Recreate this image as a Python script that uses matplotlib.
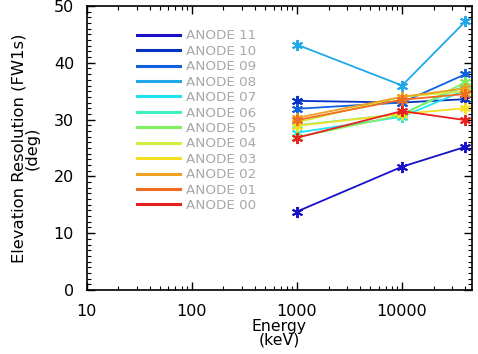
import numpy as np
import matplotlib.pyplot as plt
from matplotlib.ticker import MultipleLocator, LogLocator, NullFormatter, FixedLocator, FixedFormatter

# energies (keV)
energy = [1000, 10000, 40000]

anodes = ['11', '10', '09', '08', '07', '06', '05', '04', '03', '02', '01', '00']
colors = ['#1a10c8', '#0530c0', '#1060e0', '#20a8e8', '#20e4f4', '#40f0c0',
          '#80f060', '#cef040', '#f4e020', '#f0a020', '#f06a20', '#e82020']

res = {
    '11': [13.8, 21.7, 25.2],
    '10': [33.3, 33.0, 33.6],
    '09': [31.9, 33.0, 38.0],
    '08': [43.2, 36.0, 47.3],
    '07': [27.7, 30.5, 35.2],
    '06': [29.0, 31.0, 36.0],
    '05': [26.9, 30.8, 36.6],
    '04': [29.5, 34.0, 35.0],
    '03': [28.9, 31.0, 32.0],
    '02': [30.3, 34.0, 35.5],
    '01': [29.9, 33.5, 34.5],
    '00': [26.8, 31.5, 29.9],
}

fig = plt.figure(figsize=(4.78, 3.54), dpi=100)
ax = fig.add_axes([0.181, 0.181, 0.806, 0.802])

handles = []
for a, c in zip(anodes, colors):
    ax.plot(energy, res[a], color=c, lw=1.3, marker=(6, 2, 0), ms=8, mew=1.4, mec=c)
    h, = ax.plot([], [], color=c, lw=2.2)
    handles.append(h)

ax.set_xscale('log')
ax.set_xlim(10, 46000)
ax.set_ylim(0, 50)
ax.yaxis.set_major_locator(MultipleLocator(10))
ax.yaxis.set_minor_locator(MultipleLocator(1))
ax.xaxis.set_major_locator(FixedLocator([10, 100, 1000, 10000]))
ax.xaxis.set_major_formatter(FixedFormatter(['10', '100', '1000', '10000']))
ax.xaxis.set_minor_locator(LogLocator(base=10, subs=np.arange(2, 10)))
ax.xaxis.set_minor_formatter(NullFormatter())
ax.tick_params(which='both', direction='in', top=True, right=True, labelsize=11.5)
ax.tick_params(which='major', length=6, width=1)
ax.tick_params(which='minor', length=3, width=0.8)
ax.tick_params(axis='x', pad=10)
ax.tick_params(axis='y', pad=9)
for s in ax.spines.values():
    s.set_linewidth(1.2)

ax.set_xlabel('Energy\n(keV)', fontsize=11.3, linespacing=0.9, labelpad=0)
ax.set_ylabel('Elevation Resolution (FW1s)\n(deg)', fontsize=11.8, linespacing=0.85, labelpad=10)

leg = ax.legend(handles, ['ANODE ' + a for a in anodes], loc='upper left',
                bbox_to_anchor=(0.1, 0.96), frameon=False, fontsize=9.7,
                handlelength=3.2, handletextpad=0.4, labelspacing=0.18,
                labelcolor='#a8a8a8')

fig.savefig('out.png', dpi=100)
